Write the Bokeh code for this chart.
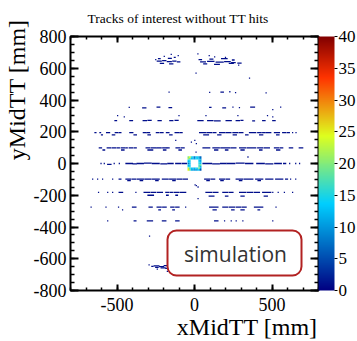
import numpy as np
from bokeh.plotting import figure
from bokeh.models import (Range1d, LinearAxis, SingleIntervalTicker, FixedTicker, ColorBar,
                          LinearColorMapper, Label, BoxAnnotation, ColumnDataSource, Title)
from bokeh.embed import file_html
from bokeh.resources import INLINE

TITLE = "Tracks of interest without TT hits"
X_LABEL = "xMidTT [mm]"
Y_LABEL = "yMidTT [mm]"
X_RANGE = (-800, 800)
Y_RANGE = (-800, 800)
Z_RANGE = (0, 40)
X_TICKS = [-500, 0, 500]
Y_TICKS = [-800, -600, -400, -200, 0, 200, 400, 600, 800]
Z_TICKS = [0, 5, 10, 15, 20, 25, 30, 35, 40]
BIN_W = 8  # mm, histogram bin width
BIN_H = 8  # mm, histogram bin height

# filled bins, grouped in runs: (y, x_start, x_end, entries)
CLUSTER_TOP = [
    (645, -240, -215, 1), (648, -205, -185, 1), (642, -175, -150, 1), (645, -140, -120, 1), (640, -110, -95, 1),
    (660, -232, -222, 1), (662, -168, -150, 1), (668, -130, -125, 1), (630, -220, -200, 1), (628, -160, -140, 1),
    (655, -250, -250, 1), (675, -195, -195, 1), (688, -150, -150, 1), (680, -105, -105, 1),
    (640, 40, 70, 1), (643, 85, 125, 1), (638, 140, 185, 1), (642, 195, 230, 1), (636, 240, 262, 1),
    (655, 30, 45, 1), (658, 100, 118, 1), (660, 175, 210, 1), (652, 245, 255, 1),
    (628, 60, 78, 1), (625, 130, 160, 1), (630, 225, 250, 1), (632, 280, 300, 1),
    (690, 22, 22, 1), (680, 95, 95, 1), (672, 130, 130, 1), (668, 200, 200, 1), (620, 285, 285, 1),
]
ROW_450 = [
    (450, -164, -164, 1), (448, 98, 98, 1), (450, 171, 186, 1), (452, 228, 228, 1), (447, 265, 265, 1),
    (445, 462, 462, 1), (569, 10, 10, 1), (538, 355, 355, 1),
]
ROW_353 = [
    (353, -421, -421, 1), (350, -334, -314, 1), (355, -241, -224, 1), (352, -164, -148, 1), (353, 98, 106, 1),
    (350, 183, 200, 1), (355, 248, 248, 1), (352, 290, 290, 1), (355, 363, 387, 1), (340, 505, 505, 1),
    (355, 556, 556, 1),
]
ROW_270 = [
    (270, -513, -503, 1), (270, -417, -400, 1), (270, -331, -310, 1), (272, -300, -280, 1), (270, -235, -215, 1),
    (270, -159, -140, 1), (272, -125, -106, 1), (270, 22, 55, 1), (270, 85, 119, 1), (268, 130, 165, 1),
    (270, 204, 237, 1), (270, 269, 290, 1), (272, 300, 312, 1), (268, 376, 387, 1), (270, 440, 455, 1),
    (270, 505, 520, 1),
    (302, -496, -496, 1), (294, -453, -453, 1), (301, -100, -100, 1), (301, 74, 74, 1), (301, 280, 280, 1),
    (301, 471, 471, 1), (293, 505, 505, 1),
]
ROW_190 = [
    (195, -642, -636, 1), (195, -610, -606, 1), (195, -567, -548, 1), (195, -511, -495, 1), (195, -486, -475, 1),
    (195, -417, -398, 1), (195, -330, -312, 1), (195, -305, -290, 1), (195, -246, -230, 1), (195, -220, -203, 1),
    (195, -181, -165, 1), (195, -125, -100, 1), (195, -92, -80, 1),
    (180, -600, -594, 1), (180, -530, -515, 1), (180, -390, -375, 1), (180, -300, -285, 1), (180, -160, -145, 1),
    (195, 33, 70, 1), (195, 80, 110, 1), (195, 120, 138, 1), (195, 162, 194, 1), (195, 203, 235, 1),
    (195, 248, 280, 1), (195, 290, 312, 1), (195, 355, 395, 1), (195, 408, 430, 1), (195, 440, 451, 1),
    (195, 460, 492, 1), (195, 516, 548, 1), (195, 569, 590, 1), (195, 600, 612, 1), (195, 633, 633, 1),
    (195, 655, 655, 1),
    (180, 60, 90, 1), (180, 150, 170, 1), (180, 250, 270, 1), (180, 330, 345, 1), (180, 420, 440, 1),
    (180, 530, 545, 1),
    (146, -121, -121, 1), (146, 2, 2, 1), (125, 12, 12, 1), (135, -20, -20, 1),
]
ROW_95 = [
    (98, -614, -600, 1), (98, -563, -540, 1), (98, -530, -510, 1), (98, -500, -485, 1), (98, -473, -450, 1),
    (98, -442, -434, 1), (98, -421, -400, 1), (98, -390, -376, 1), (98, -312, -290, 1), (98, -280, -248, 1),
    (98, -241, -215, 1), (98, -205, -180, 1), (98, -175, -164, 1), (98, -119, -95, 1), (98, -85, -67, 1),
    (85, -590, -580, 1), (85, -470, -455, 1), (85, -300, -270, 1), (85, -200, -185, 1), (85, -100, -85, 1),
    (98, 55, 98, 1), (98, 119, 160, 1), (98, 170, 226, 1), (98, 235, 267, 1), (98, 291, 330, 1),
    (98, 340, 395, 1), (98, 408, 440, 1), (98, 450, 483, 1), (98, 516, 545, 1), (98, 555, 569, 1),
    (98, 612, 633, 1), (98, 676, 698, 1),
    (85, 130, 150, 1), (85, 200, 215, 1), (85, 300, 320, 1), (85, 420, 435, 1), (85, 530, 550, 1),
    (72, 10, 10, 1), (41, 345, 345, 1),
]
ROW_0 = [
    (0, -603, -603, 1), (0, -582, -582, 1), (-5, -560, -539, 1), (0, -518, -518, 1), (0, -485, -485, 1),
    (0, -442, -400, 1), (-3, -395, -376, 1), (0, -370, -330, 1), (2, -322, -280, 1), (0, -272, -228, 1),
    (-3, -217, -180, 1), (0, -172, -138, 1), (0, -121, -90, 1), (0, -80, -52, 1),
    (0, 55, 110, 1), (-2, 118, 160, 1), (0, 168, 203, 1), (0, 210, 260, 1), (2, 270, 320, 1),
    (0, 330, 376, 1), (0, 402, 450, 1), (-2, 460, 505, 1), (0, 518, 560, 1), (0, 575, 588, 1),
    (0, 614, 614, 1), (0, 653, 653, 1), (0, 678, 678, 1),
]
ROW_M100 = [
    (-98, -657, -657, 1), (-98, -625, -625, 1), (-98, -593, -593, 1), (-98, -528, -528, 1), (-98, -486, -475, 1),
    (-98, -442, -410, 1), (-98, -400, -378, 1), (-98, -368, -330, 1), (-98, -320, -280, 1), (-98, -270, -228, 1),
    (-98, -207, -170, 1), (-98, -160, -120, 1), (-98, -110, -80, 1), (-98, -70, -46, 1),
    (-108, -430, -415, 1), (-108, -350, -335, 1), (-108, -250, -235, 1), (-108, -140, -125, 1),
    (-98, 66, 100, 1), (-98, 110, 130, 1), (-98, 162, 195, 1), (-98, 205, 226, 1), (-98, 269, 310, 1),
    (-98, 320, 376, 1), (-98, 395, 440, 1), (-98, 460, 505, 1), (-98, 524, 569, 1), (-98, 588, 600, 1),
    (-98, 620, 620, 1), (-98, 653, 653, 1),
    (-108, 80, 95, 1), (-108, 170, 185, 1), (-108, 290, 305, 1), (-108, 410, 425, 1),
    (-140, 12, 12, 1), (-148, 23, 23, 1), (-135, 4, 4, 1),
]
ROW_M190 = [
    (-182, -619, -619, 1), (-182, -560, -560, 1), (-182, -528, -528, 1), (-182, -486, -464, 1), (-182, -378, -378, 1),
    (-182, -325, -290, 1), (-182, -280, -250, 1), (-182, -239, -207, 1), (-182, -185, -165, 1), (-182, -155, -143, 1),
    (-182, -132, -100, 1), (-182, -90, -57, 1),
    (-200, -300, -265, 1), (-200, -180, -170, 1), (-200, -120, -110, 1),
    (-182, 74, 110, 1), (-182, 120, 151, 1), (-182, 183, 215, 1), (-182, 225, 248, 1), (-182, 291, 330, 1),
    (-182, 340, 376, 1), (-182, 387, 419, 1), (-182, 440, 492, 1), (-182, 505, 505, 1), (-182, 540, 540, 1),
    (-182, 580, 580, 1), (-182, 633, 633, 1),
    (-205, 95, 125, 1), (-205, 200, 215, 1), (-205, 300, 320, 1), (-205, 450, 470, 1),
    (-221, 23, 23, 1),
]
ROW_M275 = [
    (-275, -667, -667, 1), (-275, -571, -571, 1), (-275, -490, -490, 1), (-275, -400, -378, 1), (-275, -293, -273, 1),
    (-275, -241, -215, 1), (-275, -205, -183, 1), (-275, -153, -132, 1), (-275, -121, -100, 1), (-275, -57, -57, 1),
    (-292, -464, -464, 1), (-292, -230, -220, 1), (-292, -140, -130, 1),
    (-275, 98, 151, 1), (-275, 183, 215, 1), (-275, 226, 258, 1), (-275, 269, 300, 1), (-275, 310, 333, 1),
    (-275, 387, 440, 1), (-275, 526, 526, 1),
    (-292, 120, 140, 1), (-292, 240, 255, 1), (-292, 300, 320, 1), (-292, 410, 420, 1),
]
ROW_M362 = [
    (-362, -560, -560, 1), (-362, -389, -378, 1), (-362, -304, -271, 1), (-362, -207, -185, 1), (-362, -121, -100, 1),
    (-362, 130, 151, 1), (-362, 194, 194, 1), (-362, 237, 237, 1), (-362, 269, 269, 1), (-362, 312, 312, 1),
    (-362, 505, 505, 1), (-458, -290, -290, 1),
]
CLUSTER_BOTTOM = [
    (-645, -260, -230, 1), (-650, -225, -200, 1), (-643, -195, -177, 1), (-655, -250, -235, 1),
    (-658, -215, -190, 1), (-660, -185, -170, 1), (-638, -293, -293, 1), (-680, -175, -175, 1),
    (-665, -240, -240, 1), (-648, -275, -268, 1),
]

# beam-pipe ring, 10 mm bins: bin centres and entries (0 = empty)
RING_X = [-40, -30, -20, -10, 0, 10, 20, 30, 40]
RING_Y = [40, 30, 20, 10, 0, -10, -20, -30, -40]
RING_COUNTS = [
    [20, 24, 16, 13, 8, 12, 14, 10, 7],
    [22, 18, 13, 12, 10, 13, 14, 12, 9],
    [14, 15, 0, 0, 0, 0, 0, 13, 11],
    [12, 13, 0, 0, 0, 0, 0, 14, 12],
    [8, 12, 0, 0, 0, 0, 0, 15, 13],
    [12, 13, 0, 0, 0, 0, 0, 16, 18],
    [15, 14, 0, 0, 0, 0, 0, 17, 12],
    [23, 17, 13, 12, 12, 13, 15, 19, 10],
    [25, 20, 12, 10, 11, 9, 13, 11, 6],
]
RING_BIN = 10

# ROOT kRainBow palette
stops = [0.00, 0.34, 0.61, 0.84, 1.00]
red = [0.00, 0.00, 0.87, 1.00, 0.51]
green = [0.00, 0.81, 1.00, 0.20, 0.00]
blue = [0.51, 1.00, 0.12, 0.00, 0.00]
tt = np.linspace(0, 1, 255)
palette = ["#%02x%02x%02x" % (int(round(255 * np.interp(t, stops, red))),
                              int(round(255 * np.interp(t, stops, green))),
                              int(round(255 * np.interp(t, stops, blue)))) for t in tt]

runs = (CLUSTER_TOP + ROW_450 + ROW_353 + ROW_270 + ROW_190 + ROW_95 + ROW_0 + ROW_M100
        + ROW_M190 + ROW_M275 + ROW_M362 + CLUSTER_BOTTOM)
L, R, B, T, N = [], [], [], [], []
for (y, x0, x1, n) in runs:
    L.append(x0 - BIN_W / 2); R.append(x1 + BIN_W / 2)
    B.append(y - BIN_H / 2); T.append(y + BIN_H / 2); N.append(n)
for j, yc in enumerate(RING_Y):
    for i, xc in enumerate(RING_X):
        c = RING_COUNTS[j][i]
        if c > 0:
            L.append(xc - RING_BIN / 2); R.append(xc + RING_BIN / 2)
            B.append(yc - RING_BIN / 2); T.append(yc + RING_BIN / 2); N.append(c)
src = ColumnDataSource(dict(l=L, r=R, b=B, t=T, n=N))

SERIF = "Liberation Serif"

p = figure(frame_width=248, frame_height=254,
           x_range=Range1d(*X_RANGE), y_range=Range1d(*Y_RANGE),
           x_axis_type=None, y_axis_type=None,
           output_backend="svg", toolbar_location=None,
           min_border_left=66, min_border_top=36, min_border_bottom=50, min_border_right=0)
p.background_fill_color = "white"
p.border_fill_color = "white"
p.outline_line_color = "black"
p.outline_line_width = 2
p.xgrid.visible = False
p.ygrid.visible = False

p.title.text = TITLE
p.title.align = "left"
p.title.offset = 17
p.title.vertical_align = "top"
p.title.standoff = 18
p.title.text_font = SERIF
p.title.text_font_size = "13.5px"
p.title.text_font_style = "normal"
p.title.text_color = "black"

mapper = LinearColorMapper(palette=palette, low=Z_RANGE[0], high=Z_RANGE[1])
p.quad(left="l", right="r", bottom="b", top="t", source=src,
       fill_color={"field": "n", "transform": mapper}, line_color=None)


def make_axis(interval, minor, major_in, minor_in, labels, ticks):
    ax = LinearAxis(ticker=SingleIntervalTicker(interval=interval, num_minor_ticks=minor))
    ax.axis_line_color = None
    ax.major_tick_in = major_in
    ax.major_tick_out = 0
    ax.minor_tick_in = minor_in
    ax.minor_tick_out = 0
    ax.major_tick_line_color = "black"
    ax.major_tick_line_width = 2
    ax.minor_tick_line_color = "black"
    ax.minor_tick_line_width = 1.5
    if labels:
        ax.major_label_text_font = SERIF
        ax.major_label_text_font_size = "18px"
        ax.major_label_text_color = "black"
        ax.major_label_overrides = {t: str(t) for t in ticks}
    else:
        ax.major_label_text_font_size = "0px"
        ax.major_label_standoff = 0
    return ax


xb = make_axis(500, 5, 6, 3, True, X_TICKS)
xb.major_label_standoff = 7
yl = make_axis(200, 4, 8, 4, True, Y_TICKS)
yl.major_label_standoff = 4
xt = make_axis(500, 5, 6, 3, False, X_TICKS)
yr = make_axis(200, 4, 8, 4, False, Y_TICKS)
p.add_layout(xb, "below")
p.add_layout(yl, "left")
p.add_layout(xt, "above")
p.add_layout(yr, "right")

# axis titles, ROOT style: right-aligned at the end of each axis
p.add_layout(Title(text=X_LABEL, align="right", offset=1, standoff=-4,
                   text_font=SERIF, text_font_size="24px", text_font_style="normal",
                   text_color="black"), "below")
p.add_layout(Title(text=Y_LABEL, align="right", offset=-17, standoff=2,
                   text_font=SERIF, text_font_size="24px", text_font_style="normal",
                   text_color="black"), "left")

cb = ColorBar(color_mapper=mapper, width=16, padding=0, margin=2,
              ticker=FixedTicker(ticks=Z_TICKS),
              major_tick_in=0, major_tick_out=3, major_tick_line_color="black",
              minor_tick_out=0, minor_tick_in=0,
              major_label_text_font=SERIF, major_label_text_font_size="17px",
              major_label_text_color="black", label_standoff=1,
              bar_line_color=None, border_line_color=None, background_fill_alpha=0)
p.add_layout(cb, "right")

p.add_layout(BoxAnnotation(left=97, right=231, top=60, bottom=15,
                           left_units="screen", right_units="screen",
                           top_units="screen", bottom_units="screen",
                           fill_color="white", fill_alpha=1.0,
                           line_color="#b22222", line_alpha=1.0, line_width=2, border_radius=9))
p.add_layout(Label(x=165, y=37, x_units="screen", y_units="screen", text="simulation",
                   text_align="center", text_baseline="middle",
                   text_font="Open Sans", text_font_size="21px", text_color="#333333"))

open("out.html", "w").write(file_html(p, INLINE))
